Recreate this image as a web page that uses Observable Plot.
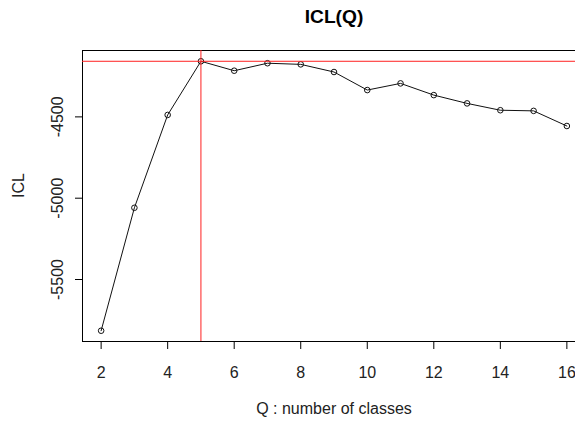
<!DOCTYPE html>
<html>
<head>
<meta charset="utf-8">
<script src="https://cdn.jsdelivr.net/npm/d3@7"></script>
<script src="https://cdn.jsdelivr.net/npm/@observablehq/plot@0.6"></script>
<style>
  html, body { margin: 0; padding: 0; background: white; overflow: hidden; }
  #chart { width: 575px; height: 422px; overflow: hidden; }
</style>
</head>
<body>
<div id="chart"></div>
<script>
// Data
const Q = [2, 3, 4, 5, 6, 7, 8, 9, 10, 11, 12, 13, 14, 15, 16];
const ICL = [-5815, -5059, -4488, -4158, -4216, -4170, -4177, -4224, -4335, -4294, -4366, -4417, -4459, -4463, -4556];
const xTicks = [2, 4, 6, 8, 10, 12, 14, 16];
const yTicks = [-5500, -5000, -4500];
const titleText = "ICL(Q)";
const xLabel = "Q : number of classes";
const yLabel = "ICL";

const data = Q.map((q, i) => ({q, icl: ICL[i]}));
const best = data.reduce((a, b) => (b.icl > a.icl ? b : a));

const pad = (lo, hi) => { const d = (hi - lo) * 0.04; return [lo - d, hi + d]; };
const xDom = pad(d3.min(Q), d3.max(Q));
const yDom = pad(d3.min(ICL), d3.max(ICL));

const font = "'Liberation Sans', Arial, sans-serif";
const plain = d => String(d);

const chart = Plot.plot({
  width: 585,
  height: 422,
  marginLeft: 82,
  marginRight: 0,
  marginTop: 50,
  marginBottom: 81,
  style: {maxWidth: "none", fontFamily: font, fontSize: "16px", background: "white", color: "black"},
  x: {domain: xDom},
  y: {domain: yDom},
  marks: [
    Plot.axisX(xTicks, {tickSize: 8, tickPadding: 17, fontSize: 16, label: null, stroke: "black", fill: "#222", tickFormat: plain}),
    Plot.axisY(yTicks, {tickSize: 7, tickPadding: 13, tickRotate: -90, fontSize: 16, label: null, stroke: "black", fill: "#222", tickFormat: plain}),
    Plot.frame({stroke: "black"}),
    Plot.line(data, {x: "q", y: "icl", stroke: "#111", strokeWidth: 1}),
    Plot.dot(data, {x: "q", y: "icl", r: 2.8, stroke: "#111", fill: "none", strokeWidth: 1}),
    Plot.ruleX([best.q], {stroke: "#ff2020", strokeWidth: 1}),
    Plot.ruleY([best.icl], {stroke: "#ff2020", strokeWidth: 1}),
    Plot.text([titleText], {frameAnchor: "top", dy: -28, lineAnchor: "bottom", fontSize: 19.2, fontWeight: "bold", fill: "black"}),
    Plot.text([xLabel], {frameAnchor: "bottom", dy: 72, lineAnchor: "bottom", fontSize: 16, fill: "#222"}),
    Plot.text([yLabel], {frameAnchor: "left", dx: -59, dy: 2, rotate: -90, lineAnchor: "bottom", fontSize: 16, fill: "#222"})
  ]
});
document.getElementById("chart").appendChild(chart);
</script>
</body>
</html>
